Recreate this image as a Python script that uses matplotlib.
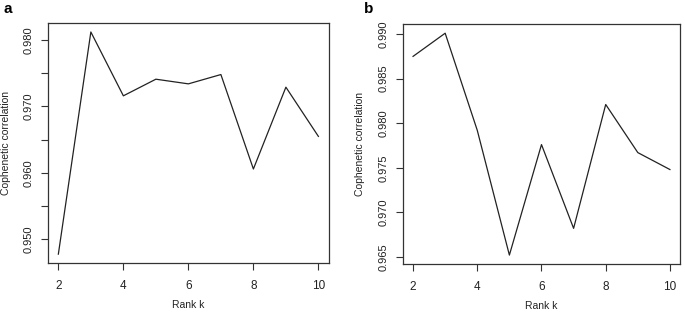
import numpy as np
import matplotlib.pyplot as plt

plt.rcParams['font.family'] = ['Liberation Sans', 'DejaVu Sans']

rank_k = [2, 3, 4, 5, 6, 7, 8, 9, 10]
coph_a = [0.9478, 0.9812, 0.9716, 0.9741, 0.9734, 0.9748, 0.9606, 0.9729, 0.9655]
coph_b = [0.9875, 0.9901, 0.9792, 0.9652, 0.9776, 0.9682, 0.9821, 0.9767, 0.9748]

yticks_a = [0.950, 0.955, 0.960, 0.965, 0.970, 0.975, 0.980]
ylabels_a = ['0.950', '', '0.960', '', '0.970', '', '0.980']
yticks_b = [0.965, 0.970, 0.975, 0.980, 0.985, 0.990]
ylabels_b = ['0.965', '0.970', '0.975', '0.980', '0.985', '0.990']
xticks = [2, 4, 6, 8, 10]

fig = plt.figure(figsize=(6.85, 3.12), dpi=100)
ax_a = fig.add_axes([0.070, 0.157, 0.410, 0.769])
ax_b = fig.add_axes([0.588, 0.154, 0.405, 0.768])


def r_style(ax, x, y, yt, yl, ylab_x):
    ax.plot(x, y, color='#222222', lw=0.9)
    # R-like 4% padding
    xr = max(x) - min(x)
    yr = max(y) - min(y)
    ax.set_xlim(min(x) - 0.04 * xr, max(x) + 0.04 * xr)
    ax.set_ylim(min(y) - 0.04 * yr, max(y) + 0.04 * yr)
    ax.set_xticks(xticks)
    ax.set_xticklabels([str(t) for t in xticks], fontsize=8.5, color='#222222')
    ax.set_yticks(yt)
    ax.set_yticklabels(yl, fontsize=8, rotation=90, va='center', color='#222222')
    ax.tick_params(direction='out', length=5, width=0.8, color='#333333')
    ax.tick_params(axis='x', pad=7)
    ax.tick_params(axis='y', pad=5)
    for s in ax.spines.values():
        s.set_linewidth(0.9)
        s.set_color('#333333')
    ax.set_xlabel('Rank k', fontsize=7.5, color='#222222', labelpad=6)
    ax.set_ylabel('Cophenetic correlation', fontsize=7.5, color='#222222')
    ax.yaxis.set_label_coords(ylab_x, 0.5)


r_style(ax_a, rank_k, coph_a, yticks_a, ylabels_a, -0.133)
r_style(ax_b, rank_k, coph_b, yticks_b, ylabels_b, -0.135)

fig.text(3 / 685, 1 - 9 / 312, 'a', fontsize=11, fontweight='bold', va='center', ha='left')
fig.text(364 / 685, 1 - 9 / 312, 'b', fontsize=11, fontweight='bold', va='center', ha='left')

fig.savefig('out.png', dpi=100)
